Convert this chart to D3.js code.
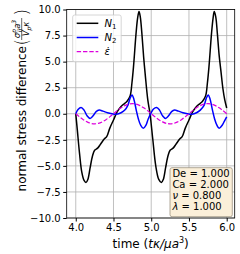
<!DOCTYPE html>
<html>
<head>
<meta charset="utf-8">
<script src="https://cdn.jsdelivr.net/npm/d3@7"></script>
<style>
  body { margin: 0; background: #fff; }
  text { font-family: "DejaVu Sans", sans-serif; }
</style>
</head>
<body>
<div class="chart"></div>
<script>
// time values and curves
var timeN1 = [4.00, 4.02, 4.05, 4.08, 4.11, 4.135, 4.16, 4.19, 4.22, 4.25, 4.29, 4.33, 4.38, 4.41, 4.45, 4.50, 4.55, 4.60, 4.65, 4.68, 4.72, 4.745, 4.765, 4.80, 4.82, 4.838, 4.855, 4.875, 4.90, 4.92, 4.955, 4.984, 5.02, 5.06, 5.10, 5.135, 5.16, 5.19, 5.22, 5.25, 5.29, 5.33, 5.38, 5.41, 5.45, 5.50, 5.55, 5.60, 5.65, 5.68, 5.72, 5.745, 5.765, 5.80, 5.82, 5.835, 5.855, 5.875, 5.90, 5.925, 5.95, 5.975, 6.00]
var valN1 = [0.0, -1.5, -3.8, -5.6, -6.4, -6.6, -6.3, -5.2, -4.1, -3.5, -3.3, -2.9, -2.4, -2.2, -1.4, -0.6, 0.2, 0.7, 1.0, 1.2, 1.7, 3.0, 4.5, 7.8, 9.2, 9.8, 9.3, 7.8, 5.4, 3.8, 1.3, 0.0, -2.4, -5.0, -6.3, -6.6, -6.3, -5.2, -4.1, -3.5, -3.3, -2.9, -2.4, -2.2, -1.4, -0.6, 0.2, 0.7, 1.0, 1.2, 1.7, 3.0, 4.5, 7.8, 9.2, 9.8, 9.3, 7.8, 5.6, 4.0, 2.4, 1.3, 0.55]

var timeN2 = [4.00, 4.03, 4.07, 4.11, 4.15, 4.19, 4.23, 4.27, 4.31, 4.36, 4.42, 4.48, 4.54, 4.60, 4.65, 4.69, 4.72, 4.745, 4.77, 4.80, 4.83, 4.86, 4.895, 4.93, 4.96, 5.00, 5.03, 5.07, 5.11, 5.15, 5.19, 5.23, 5.27, 5.31, 5.36, 5.42, 5.48, 5.54, 5.60, 5.65, 5.70, 5.73, 5.755, 5.78, 5.81, 5.84, 5.87, 5.90, 5.94, 5.97, 6.00]
var valN2 = [0.0, 0.4, 0.6, 0.35, -0.2, -0.45, -0.2, 0.2, 0.35, 0.25, 0.1, 0.0, -0.05, 0.1, 0.35, 0.8, 1.5, 1.8, 1.4, 0.4, -0.5, -1.1, -1.4, -1.1, -0.5, 0.1, 0.45, 0.6, 0.35, -0.2, -0.45, -0.2, 0.2, 0.35, 0.25, 0.1, 0.0, -0.05, 0.1, 0.35, 0.8, 1.5, 1.8, 1.4, 0.4, -0.5, -1.1, -1.4, -1.1, -0.7, -0.3]

var timeEps = [4.00, 4.05, 4.10, 4.15, 4.20, 4.25, 4.30, 4.35, 4.40, 4.45, 4.50, 4.55, 4.60, 4.65, 4.70, 4.75, 4.80, 4.85, 4.90, 4.95, 5.00, 5.05, 5.10, 5.15, 5.20, 5.25, 5.30, 5.35, 5.40, 5.45, 5.50, 5.55, 5.60, 5.65, 5.70, 5.75, 5.80, 5.85, 5.90, 5.95, 6.00]
var valEps = [0.0, -0.3, -0.57, -0.78, -0.92, -0.97, -0.92, -0.78, -0.57, -0.3, 0.0, 0.3, 0.57, 0.78, 0.92, 0.97, 0.92, 0.78, 0.57, 0.3, 0.0, -0.3, -0.57, -0.78, -0.92, -0.97, -0.92, -0.78, -0.57, -0.3, 0.0, 0.3, 0.57, 0.78, 0.92, 0.97, 0.92, 0.78, 0.57, 0.3, 0.0]

var xTicks = [4.0, 4.5, 5.0, 5.5, 6.0]
var yTicks = [-10, -7.5, -5, -2.5, 0, 2.5, 5, 7.5, 10]
var params = [["De", "1.000"], ["Ca", "2.000"], ["ν", "0.800"], ["λ", "1.000"]]

var W = 240, H = 254
var svg = d3.select(".chart").append("svg")
    .attr("width", W)
    .attr("height", H)

var x = d3.scaleLinear().domain([3.88, 6.106]).range([66.7, 234.7])
var y = d3.scaleLinear().domain([-10, 10]).range([218, 9.5])

// grid
svg.append("g").selectAll("line")
    .data(xTicks).join("line")
    .attr("x1", d => x(d)).attr("x2", d => x(d))
    .attr("y1", y(-10)).attr("y2", y(10))
    .attr("stroke", "#b0b0b0").attr("stroke-width", 0.8)
svg.append("g").selectAll("line")
    .data(yTicks).join("line")
    .attr("y1", d => y(d)).attr("y2", d => y(d))
    .attr("x1", x.range()[0]).attr("x2", x.range()[1])
    .attr("stroke", "#b0b0b0").attr("stroke-width", 0.8)

// axes
svg.append("g")
    .attr("transform", "translate(0," + y(-10) + ")")
    .call(d3.axisBottom(x).tickValues(xTicks).tickFormat(d3.format(".1f")).tickSizeInner(3.5).tickSizeOuter(0).tickPadding(2.5))
    .call(g => g.select(".domain").remove())
    .call(g => g.selectAll("text").attr("font-size", 10).attr("fill", "#000").style("font-family", "DejaVu Sans"))
svg.append("g")
    .attr("transform", "translate(" + x.range()[0] + ",0)")
    .call(d3.axisLeft(y).tickValues(yTicks).tickFormat(d => d3.format(".1f")(d).replace("-", "\u2212")).tickSizeInner(3.5).tickSizeOuter(0).tickPadding(2.5))
    .call(g => g.select(".domain").remove())
    .call(g => g.selectAll("text").attr("font-size", 10).attr("fill", "#000").style("font-family", "DejaVu Sans"))

svg.append("rect")
    .attr("x", x.range()[0]).attr("y", y(10))
    .attr("width", x.range()[1] - x.range()[0])
    .attr("height", y(-10) - y(10))
    .attr("fill", "none").attr("stroke", "#000").attr("stroke-width", 0.8)

// curves
var plotArea = svg.append("g")
function draw(ts, vs, color, width, dash) {
    var line = d3.line().x(d => x(d[0])).y(d => y(d[1])).curve(d3.curveCatmullRom)
    plotArea.append("path")
        .datum(ts.map((t, i) => [t, vs[i]]))
        .attr("d", line)
        .attr("fill", "none")
        .attr("stroke", color)
        .attr("stroke-width", width)
        .attr("stroke-dasharray", dash)
}
draw(timeN1, valN1, "#000", 1.5, null)
draw(timeN2, valN2, "#0000ff", 1.5, null)
draw(timeEps, valEps, "#dd00dd", 1.2, "4.4,1.9")

// legend
var leg = svg.append("g")
leg.append("rect")
    .attr("x", 72.7).attr("y", 15).attr("width", 48.5).attr("height", 46.7)
    .attr("rx", 2).attr("fill", "#fff").attr("fill-opacity", 0.8)
    .attr("stroke", "#cccccc").attr("stroke-width", 0.8)
var legItems = [
    { c: "#000", dash: null, main: "N", sub: "1" },
    { c: "#0000ff", dash: null, main: "N", sub: "2" },
    { c: "#dd00dd", dash: "4.4,1.9", main: "ε\u0307", sub: null }
]
legItems.forEach(function (d, i) {
    var yy = 23.3 + i * 14.2
    leg.append("line")
        .attr("x1", 76.7).attr("x2", 98.3).attr("y1", yy).attr("y2", yy)
        .attr("stroke", d.c).attr("stroke-width", d.dash ? 1.2 : 1.5)
        .attr("stroke-dasharray", d.dash)
    var t = leg.append("text").attr("x", 104.5).attr("y", yy + 3.6).attr("font-size", 10)
    t.append("tspan").attr("font-style", "italic").text(d.main)
    if (d.sub) t.append("tspan").attr("font-size", 7).attr("dy", 2).text(d.sub)
})

// parameter box
svg.append("rect")
    .attr("x", 170).attr("y", 167.7).attr("width", 62.3).attr("height", 49)
    .attr("rx", 2).attr("fill", "#fbefd9").attr("stroke", "#9c9280").attr("stroke-width", 0.8)
params.forEach(function (p, i) {
    var t = svg.append("text").attr("x", 172.4).attr("y", 177.3 + i * 10.9).attr("font-size", 10)
    t.append("tspan").attr("font-style", i > 1 ? "italic" : null).text(p[0])
    t.append("tspan").text(" = " + p[1])
})

// x label
var xl = svg.append("text")
    .attr("x", 150.7).attr("y", 247.5)
    .attr("text-anchor", "middle").attr("font-size", 12)
xl.append("tspan").text("time (")
xl.append("tspan").attr("font-style", "italic").text("tκ/μa")
xl.append("tspan").attr("font-size", 8).attr("dy", -5).text("3")
xl.append("tspan").attr("dy", 5).text(")")

// y label
var yl = svg.append("g").attr("transform", "translate(25.5,0) rotate(-90)")
yl.append("text").attr("x", -46).attr("y", 0)
    .attr("text-anchor", "end").attr("font-size", 12)
    .text("normal stress difference")
yl.append("text").attr("x", -45.5).attr("y", 2.5).attr("font-size", 17).attr("font-weight", 200).text("(")
yl.append("text").attr("x", -15.5).attr("y", 2.5).attr("font-size", 17).attr("font-weight", 200).text(")")
var num = yl.append("text").attr("x", -29).attr("y", -5.6)
    .attr("text-anchor", "middle").attr("font-size", 8.5).attr("font-style", "italic")
num.append("tspan").text("σ")
num.append("tspan").attr("font-size", 6).attr("dy", -3.5).text("p")
num.append("tspan").attr("font-size", 6).attr("dx", -3.2).attr("dy", 5.5).text("ij")
num.append("tspan").attr("dy", -2).text("a")
num.append("tspan").attr("font-size", 6).attr("dy", -3.5).text("3")
yl.append("line").attr("x1", -40).attr("x2", -18).attr("y1", -3.8).attr("y2", -3.8)
    .attr("stroke", "#000").attr("stroke-width", 0.6)
var den = yl.append("text").attr("x", -29).attr("y", 3.3)
    .attr("text-anchor", "middle").attr("font-size", 8.5).attr("font-style", "italic")
den.append("tspan").text("V")
den.append("tspan").attr("font-size", 6).attr("dy", 1.8).text("p")
den.append("tspan").attr("dy", -1.8).text("κ")
</script>
</body>
</html>
